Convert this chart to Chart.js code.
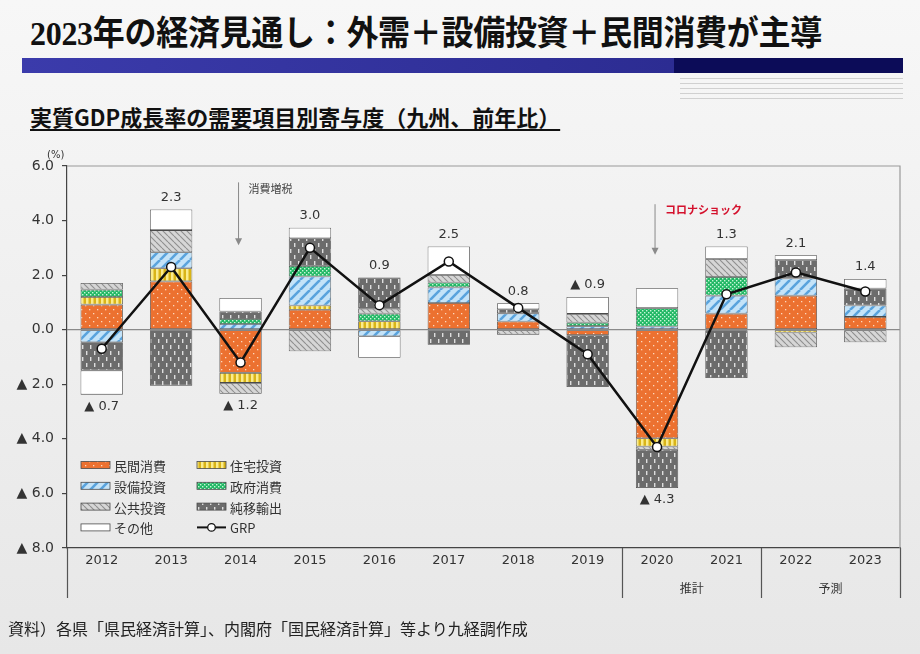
<!DOCTYPE html>
<html lang="ja">
<head>
<meta charset="utf-8">
<title>実質GDP成長率の需要項目別寄与度</title>
<script src="https://cdn.jsdelivr.net/npm/chart.js@4.4.1/dist/chart.umd.min.js"></script>
<style>
html, body { margin: 0; padding: 0; }
body {
  width: 920px; height: 654px; overflow: hidden; position: relative;
  background: linear-gradient(#f7f7f7, #e7e7e7);
  font-family: "Noto Sans CJK JP", sans-serif; color: #222;
}
#title {
  position: absolute; left: 30px; top: 12px; white-space: nowrap;
  font-family: "Liberation Serif", "Noto Sans CJK JP", serif; font-weight: bold;
  font-size: 32px; line-height: 40px; color: #111; letter-spacing: -0.3px;
  transform: scaleY(1.08); transform-origin: left top;
}
#band {
  position: absolute; left: 22px; top: 58px; width: 881px; height: 15px;
  background: linear-gradient(90deg, #3b3bab 0%, #2c2c92 74%, #0c0c58 74%, #0c0c58 100%);
}
#rules {
  position: absolute; left: 680px; top: 78px; width: 223px; height: 24px;
  background: repeating-linear-gradient(#d0d0d0 0 1px, transparent 1px 5px);
}
#sub {
  position: absolute; left: 30px; top: 101px; white-space: nowrap;
  font-size: 22px; font-weight: bold; line-height: 30px; color: #111;
  text-decoration: underline; text-underline-offset: 3px;
}
#wrap { position: absolute; left: 0; top: 140px; width: 920px; height: 480px; }
#src { position: absolute; left: 8px; top: 616px; font-size: 16px; line-height: 24px; color: #222; }
</style>
</head>
<body>
<div id="title">2023年の経済見通し：外需＋設備投資＋民間消費が主導</div>
<div id="band"></div>
<div id="rules"></div>
<div id="sub">実質GDP成長率の需要項目別寄与度（九州、前年比）</div>
<div id="wrap"><canvas id="chart"></canvas></div>
<div id="src">資料）各県「県民経済計算」、内閣府「国民経済計算」等より九経調作成</div>
<script>
// 年（横軸）
const years = ['2012', '2013', '2014', '2015', '2016', '2017', '2018', '2019', '2020', '2021', '2022', '2023'];

// 需要項目別寄与度（%ポイント）
const privCons = [0.92, 1.77, -1.58, 0.73, 0, 0.98, 0.30, -0.20, -3.98, 0.59, 1.25, 0.47];   // 民間消費
const housing  = [0.28, 0.48, -0.37, 0.16, 0.31, 0, 0, 0, -0.30, 0, -0.10, 0];               // 住宅投資
const capex    = [-0.46, 0.59, 0.21, 1.06, -0.24, 0.57, 0.30, 0.13, 0.12, 0.66, 0.63, 0.42]; // 設備投資
const govCons  = [0.27, 0, 0.18, 0.39, 0.28, 0.18, 0, 0.13, 0.67, 0.68, 0, 0];               // 政府消費
const pubInv   = [0.24, 0.81, -0.40, -0.79, 0.18, 0.28, -0.18, 0.32, -0.12, 0.66, -0.54, -0.46]; // 公共投資
const netExp   = [-1.03, -2.05, 0.28, 1.01, 1.14, -0.55, 0.15, -1.90, -1.40, -1.77, 0.67, 0.62]; // 純移輸出
const others   = [-0.89, 0.76, 0.49, 0.39, -0.79, 1.04, 0.22, 0.62, 0.73, 0.46, 0.18, 0.35];  // その他
const grp      = [-0.7, 2.3, -1.2, 3.0, 0.9, 2.5, 0.8, -0.9, -4.3, 1.3, 2.1, 1.4];           // GRP

// GRPラベルを棒の上に出すか下に出すか
const labelSide = ['below', 'above', 'below', 'above', 'above', 'above', 'above', 'above', 'below', 'above', 'above', 'above'];

// 横軸下の区分
const groups = [
  { label: '推計', from: 8, to: 9 },
  { label: '予測', from: 10, to: 11 }
];

// 注記（矢印）
const notes = [
  { index: 2, text: '消費増税', color: '#444', bold: false, from: 5.4, to: 3.1 },
  { index: 8, text: 'コロナショック', color: '#d4102c', bold: true, from: 4.6, to: 2.75 }
];

const FONT = '"DejaVu Sans", "Noto Sans CJK JP", sans-serif';
const JP = '"Noto Sans CJK JP", sans-serif';

// 塗りパターンを作る
function makePattern(w, h, bg, draw) {
  const c = document.createElement('canvas');
  c.width = w; c.height = h;
  const x = c.getContext('2d');
  x.fillStyle = bg;
  x.fillRect(0, 0, w, h);
  draw(x, w, h);
  return x.createPattern(c, 'repeat');
}
function diag(x, s, color, lw, dir) {
  x.strokeStyle = color; x.lineWidth = lw;
  x.beginPath();
  for (let k = -1; k <= 1; k++) {
    if (dir > 0) { x.moveTo(k * s, s); x.lineTo(k * s + s, 0); }
    else { x.moveTo(k * s, 0); x.lineTo(k * s + s, s); }
  }
  x.stroke();
}

const pOrange = makePattern(8, 8, '#ec7130', (x) => {
  x.fillStyle = 'rgba(255,235,215,0.85)';
  x.fillRect(1, 1, 1.3, 1.3);
  x.fillRect(5, 5, 1.3, 1.3);
});
const pYellow = makePattern(5, 5, '#d9b418', (x) => {
  x.fillStyle = '#fbec8c';
  x.fillRect(1, 0, 2.5, 5);
});
const pBlue = makePattern(10, 10, '#c4e3f8', (x, s) => diag(x, s, '#5aa3dd', 2.6, 1));
const pGreen = makePattern(4, 4, '#22b865', (x) => {
  x.fillStyle = '#c8f5d8';
  x.fillRect(0, 0, 1.4, 1.4);
  x.fillRect(2, 2, 1.4, 1.4);
});
const pGray = makePattern(6, 6, '#d6d6d6', (x, s) => diag(x, s, '#8f8f8f', 1.1, -1));
const pDark = makePattern(8, 12, '#6c6c6c', (x) => {
  x.fillStyle = 'rgba(235,235,235,0.9)';
  x.fillRect(2, 1, 1.4, 4);
  x.fillRect(6, 7, 1.4, 4);
});

function barSet(label, data, fill) {
  return {
    type: 'bar', label: label, data: data,
    backgroundColor: fill, borderColor: '#4a4a4a', borderWidth: 0.8,
    borderSkipped: false, order: 1, stack: 'demand',
    barPercentage: 0.61, categoryPercentage: 1
  };
}

const datasets = [
  barSet('民間消費', privCons, pOrange),
  barSet('住宅投資', housing, pYellow),
  barSet('設備投資', capex, pBlue),
  barSet('政府消費', govCons, pGreen),
  barSet('公共投資', pubInv, pGray),
  barSet('純移輸出', netExp, pDark),
  barSet('その他', others, '#ffffff'),
  {
    type: 'line', label: 'GRP', data: grp, stack: 'grp', order: 0,
    borderColor: '#111', borderWidth: 2.5, tension: 0,
    pointRadius: 4.5, pointBackgroundColor: '#fff', pointBorderColor: '#111', pointBorderWidth: 1.5
  }
];

function fmt(v) {
  return v < 0 ? '▲ ' + Math.abs(v).toFixed(1) : v.toFixed(1);
}

// 枠線・区分・注記・凡例
const decorations = {
  id: 'decorations',
  beforeDatasetsDraw(chart) {
    const { ctx, chartArea: a, scales: { x } } = chart;
    ctx.save();
    ctx.strokeStyle = '#9a9a9a';
    ctx.lineWidth = 1.2;
    ctx.beginPath();
    ctx.moveTo(a.left, a.top); ctx.lineTo(a.right, a.top); ctx.lineTo(a.right, a.bottom);
    ctx.stroke();
    // 横軸下の縦線
    ctx.strokeStyle = '#555';
    ctx.beginPath();
    [-0.5, 7.5, 9.5, 11.5].forEach((v) => {
      const px = Math.round(x.getPixelForValue(v)) + 0.5;
      ctx.moveTo(px, a.bottom); ctx.lineTo(px, a.bottom + 50);
    });
    ctx.stroke();
    ctx.fillStyle = '#333';
    ctx.font = '12px ' + JP;
    ctx.textAlign = 'center';
    ctx.textBaseline = 'middle';
    groups.forEach((g) => {
      const px = (x.getPixelForValue(g.from) + x.getPixelForValue(g.to)) / 2;
      ctx.fillText(g.label, px, a.bottom + 40);
    });
    ctx.restore();
  },
  afterDatasetsDraw(chart) {
    const { ctx, chartArea: a, scales: { x, y } } = chart;
    const bars = chart.data.datasets.filter((d) => d.type === 'bar');
    ctx.save();
    // GRPラベル
    ctx.font = '13px ' + FONT;
    ctx.fillStyle = '#333';
    ctx.textAlign = 'center';
    ctx.textBaseline = 'middle';
    grp.forEach((v, i) => {
      let pos = 0, neg = 0;
      bars.forEach((d) => { const b = d.data[i]; if (b > 0) pos += b; else neg += b; });
      const px = x.getPixelForValue(i);
      const py = labelSide[i] === 'above' ? y.getPixelForValue(pos) - 12 : y.getPixelForValue(neg) + 12;
      ctx.fillText(fmt(v), px, py);
    });
    // 注記
    notes.forEach((n) => {
      const px = x.getPixelForValue(n.index) - 2;
      const y1 = y.getPixelForValue(n.from), y2 = y.getPixelForValue(n.to);
      ctx.strokeStyle = '#8a8a8a'; ctx.fillStyle = '#8a8a8a'; ctx.lineWidth = 1;
      ctx.beginPath(); ctx.moveTo(px, y1); ctx.lineTo(px, y2 - 6); ctx.stroke();
      ctx.beginPath(); ctx.moveTo(px - 3.5, y2 - 7); ctx.lineTo(px + 3.5, y2 - 7); ctx.lineTo(px, y2); ctx.closePath(); ctx.fill();
      ctx.fillStyle = n.color;
      ctx.font = (n.bold ? 'bold ' : '') + '11px ' + JP;
      ctx.textAlign = 'left';
      ctx.fillText(n.text, px + 10, y1 + 6);
    });
    // 単位
    ctx.fillStyle = '#333';
    ctx.font = '10px ' + FONT;
    ctx.textAlign = 'left';
    ctx.fillText('(%)', a.left - 20, a.top - 11);
    // 凡例
    ctx.font = '13px ' + JP;
    const rowH = 20.8;
    const top = a.bottom - 83;
    const items = chart.data.datasets;
    items.forEach((d, k) => {
      const col = k % 2, row = Math.floor(k / 2);
      const sx = a.left + 14 + col * 116;
      const sy = top + row * rowH;
      if (d.type === 'bar') {
        ctx.fillStyle = d.backgroundColor;
        ctx.fillRect(sx, sy - 3.5, 29, 7);
        ctx.strokeStyle = '#4a4a4a'; ctx.lineWidth = 0.8;
        ctx.strokeRect(sx, sy - 3.5, 29, 7);
      } else {
        ctx.strokeStyle = '#111'; ctx.lineWidth = 2;
        ctx.beginPath(); ctx.moveTo(sx, sy); ctx.lineTo(sx + 29, sy); ctx.stroke();
        ctx.beginPath(); ctx.arc(sx + 14.5, sy, 3.8, 0, Math.PI * 2);
        ctx.fillStyle = '#fff'; ctx.fill(); ctx.lineWidth = 1.3; ctx.stroke();
      }
      ctx.fillStyle = '#333';
      ctx.textAlign = 'left';
      ctx.fillText(d.label, sx + 33, sy + 1);
    });
    ctx.restore();
  }
};

Chart.defaults.font.family = FONT;
Chart.defaults.color = '#333';

new Chart(document.getElementById('chart').getContext('2d'), {
  data: { labels: years, datasets: datasets },
  options: {
    responsive: true,
    maintainAspectRatio: false,
    animation: false,
    layout: { padding: { top: 26, left: 10, right: 20, bottom: 20 } },
    plugins: { legend: { display: false }, tooltip: { enabled: false } },
    scales: {
      x: {
        stacked: true,
        grid: { display: false, drawTicks: false },
        border: { display: true, color: '#444', width: 1.2 },
        ticks: { color: '#333', font: { size: 13 }, padding: 5 },
        afterFit: (s) => { s.height = 52; }
      },
      y: {
        stacked: true,
        min: -8, max: 6,
        ticks: { stepSize: 2, color: '#333', font: { size: 14 }, padding: 8, callback: (v) => fmt(v) },
        grid: {
          color: (c) => (c.tick && c.tick.value === 0 ? '#8a8a8a' : 'rgba(0,0,0,0)'),
          lineWidth: 1.2,
          tickColor: '#444', tickLength: 5
        },
        border: { color: '#444', width: 1.2 },
        afterFit: (s) => { s.width = 57; }
      }
    }
  },
  plugins: [decorations]
});
</script>
</body>
</html>
